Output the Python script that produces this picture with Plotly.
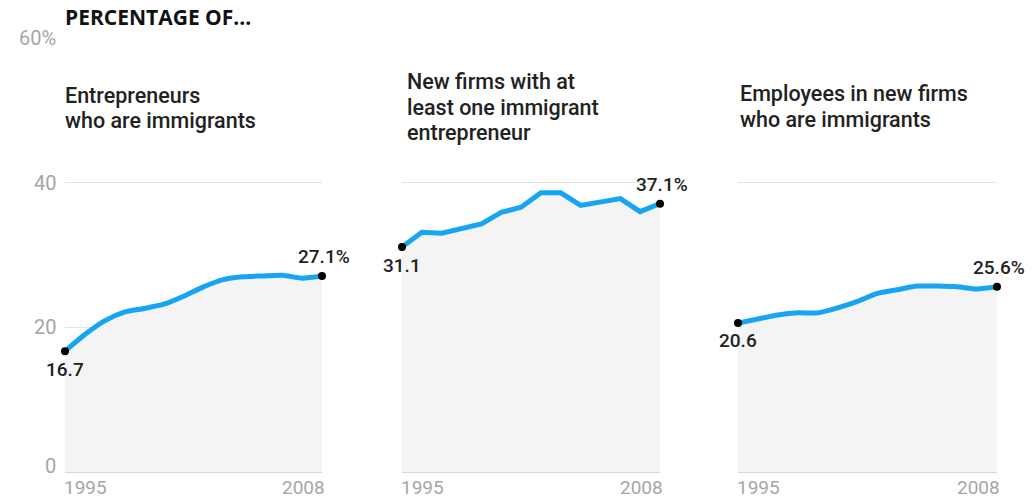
import plotly.graph_objects as go

years = list(range(1995, 2009))
entrepreneurs = [16.7, 19.0, 20.9, 22.1, 22.6, 23.2, 24.3, 25.6, 26.6, 27.0, 27.1, 27.2, 26.8, 27.1]
new_firms = [31.1, 33.15, 33.0, 33.7, 34.3, 35.9, 36.6, 38.6, 38.6, 36.85, 37.4, 37.8, 36.0, 37.1]
employees = [20.6, 21.15, 21.7, 22.0, 22.0, 22.7, 23.6, 24.7, 25.2, 25.7, 25.7, 25.6, 25.3, 25.6]

panel_titles = [["Entrepreneurs", "who are immigrants"],
                ["New firms with at", "least one immigrant", "entrepreneur"],
                ["Employees in new firms", "who are immigrants"]]
title_tops = [[81, 106], [67, 92.5, 118], [79, 105]]
title_xshift = [-2, 3, 0]
start_labels = ["16.7", "31.1", "20.6"]
end_labels = ["27.1%", "37.1%", "25.6%"]
ytick_vals = [0, 20, 40, 60]
ytick_text = ["0", "20", "40", "60%"]
xtick_vals = [1995, 2008]
xtick_text = ["1995", "2008"]

series = [entrepreneurs, new_firms, employees]
shapes_line = ["spline", "linear", "spline"]

W, H = 1035, 499
px_domains = [(65, 322), (402, 660), (738, 997)]
y0_px, y60_px = 472, 38

BLUE = "#17a5f3"
FONT = "Roboto"
GREY = "#a6a6a6"

fig = go.Figure()
layout = dict(
    width=W, height=H,
    margin=dict(l=0, r=0, t=0, b=0),
    paper_bgcolor="white", plot_bgcolor="white",
    showlegend=False,
    font=dict(family=FONT, color="#222"),
)
annotations = []
ydom = [(H - y0_px) / H, (H - y60_px) / H]

for i, vals in enumerate(series):
    sfx = "" if i == 0 else str(i + 1)
    xa, ya = "x" + sfx, "y" + sfx
    fig.add_trace(go.Scatter(
        x=years, y=vals, xaxis=xa, yaxis=ya, mode="lines",
        line=dict(color=BLUE, width=5, shape=shapes_line[i], smoothing=0.6),
        fill="tozeroy", fillcolor="#f4f4f4", hoverinfo="skip"))
    fig.add_trace(go.Scatter(
        x=[years[0], years[-1]], y=[vals[0], vals[-1]], xaxis=xa, yaxis=ya,
        mode="markers", marker=dict(color="black", size=8), cliponaxis=False,
        hoverinfo="skip"))
    d = px_domains[i]
    layout["xaxis" + sfx] = dict(
        domain=[d[0] / W, d[1] / W], range=[1995, 2008],
        showgrid=False, zeroline=False, showline=False, showticklabels=False,
        fixedrange=True)
    layout["yaxis" + sfx] = dict(
        domain=ydom, range=[0, 60], anchor=xa,
        tickvals=[20, 40, 60], showgrid=True, gridcolor="#e3e3e3", gridwidth=1,
        zeroline=True, zerolinecolor="#d8d8d8", zerolinewidth=2,
        showticklabels=False, showline=False, fixedrange=True)
    for tv, tt, anc in zip(xtick_vals, xtick_text, ["left", "right"]):
        annotations.append(dict(
            x=tv, y=1 - 487.5 / H, xref=xa, yref="paper", text=tt, showarrow=False,
            xanchor=anc, yanchor="middle", xshift=(-3 if anc == "left" else 5),
            font=dict(family=FONT, size=19, color=GREY)))
    for line, top in zip(panel_titles[i], title_tops[i]):
        annotations.append(dict(
            x=d[0] / W, y=1 - top / H, xref="paper", yref="paper",
            text=line, showarrow=False, xanchor="left", yanchor="top",
            xshift=title_xshift[i], align="left",
            font=dict(family=FONT, size=21.5, color="#222", weight=500)))
    annotations.append(dict(
        x=years[0], y=vals[0], xref=xa, yref=ya, text=start_labels[i],
        showarrow=False, xanchor="center", yanchor="middle", yshift=-18,
        font=dict(family=FONT, size=19, color="#222", weight=500)))
    annotations.append(dict(
        x=years[-1], y=vals[-1], xref=xa, yref=ya, text=end_labels[i],
        showarrow=False, xanchor="center", yanchor="middle", yshift=19, xshift=2,
        font=dict(family=FONT, size=19, color="#222", weight=500)))

for tv, tt in zip(ytick_vals, ytick_text):
    annotations.append(dict(
        x=0, y=tv, xref="paper", yref="y", text=tt, showarrow=False,
        xanchor="right", yanchor="middle", xshift=58,
        yshift=(6 if tv == 0 else 0),
        font=dict(family=FONT, size=20, color=GREY)))

annotations.append(dict(
    x=65 / W, y=1 - 1 / H, xref="paper", yref="paper",
    text="<b>PERCENTAGE OF...</b>", showarrow=False, xanchor="left",
    yanchor="top", xshift=-2, font=dict(family="Open Sans", size=21, color="#111")))

layout["annotations"] = annotations
fig.update_layout(**layout)
fig.write_html("out.html")
